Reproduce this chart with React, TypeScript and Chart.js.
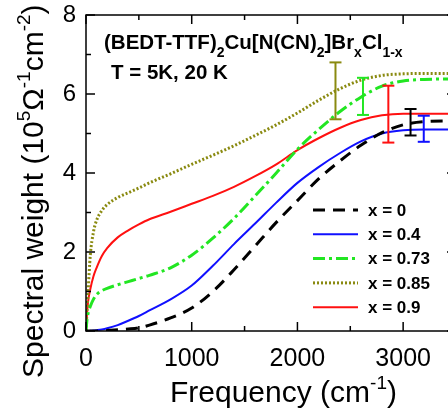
import React, { useEffect, useRef } from 'react';
import { Chart, registerables } from 'chart.js';
Chart.register(...registerables);

const freq = [0, 10, 20, 40, 70, 100, 150, 200, 300, 400, 500, 600, 800, 1000, 1200, 1400, 1600, 1800, 2000, 2200, 2400, 2600, 2800, 3000, 3200, 3500];
const sw_x0 = [0, 0, 0, 0, 0, 0, 0.005, 0.01, 0.03, 0.05, 0.08, 0.15, 0.33, 0.58, 1.0, 1.55, 2.15, 2.75, 3.3, 3.85, 4.3, 4.7, 5.02, 5.22, 5.3, 5.32];
const sw_x04 = [0, 0, 0, 0.005, 0.01, 0.02, 0.04, 0.07, 0.15, 0.26, 0.38, 0.52, 0.8, 1.15, 1.65, 2.2, 2.72, 3.25, 3.75, 4.15, 4.5, 4.8, 5.0, 5.08, 5.1, 5.1];
const sw_x073 = [0, 0.3, 0.45, 0.62, 0.8, 0.92, 1.02, 1.08, 1.17, 1.25, 1.33, 1.41, 1.6, 1.92, 2.35, 2.85, 3.42, 4.0, 4.6, 5.1, 5.55, 5.92, 6.2, 6.33, 6.37, 6.38];
const sw_x085 = [0, 0.55, 1.0, 1.9, 2.5, 2.8, 3.05, 3.2, 3.38, 3.5, 3.62, 3.75, 3.98, 4.22, 4.45, 4.69, 4.95, 5.22, 5.52, 5.84, 6.13, 6.35, 6.47, 6.51, 6.52, 6.52];
const sw_x09 = [0, 0.45, 0.75, 1.05, 1.38, 1.6, 1.9, 2.1, 2.37, 2.55, 2.7, 2.83, 3.02, 3.22, 3.42, 3.65, 3.92, 4.22, 4.58, 4.88, 5.14, 5.34, 5.46, 5.5, 5.5, 5.5];

const seriesLabels = ['x = 0', 'x = 0.4', 'x = 0.73', 'x = 0.85', 'x = 0.9'];
const seriesColors = ['#000000', '#1010ff', '#22e622', '#8a8a10', '#ff1010'];
const seriesWidths = [3, 2, 3, 3, 2];
const seriesDash: number[][] = [[12, 8], [], [12, 4, 3, 4], [2, 2], []];

const errFreq = [2360, 2620, 2860, 3070, 3195];
const errLow = [5.36, 5.47, 4.77, 4.95, 4.79];
const errHigh = [6.8, 6.41, 6.21, 5.62, 5.45];
const errColors = ['#8a8a10', '#22e622', '#ff1010', '#000000', '#1010ff'];

const xTicks = [0, 1000, 2000, 3000];
const yTicks = [0, 2, 4, 6, 8];
const X_MAX = 3500;
const Y_MAX = 8;

const FONT = '"Liberation Sans", Arial, sans-serif';

type Seg = { t: string; size: number; dy: number };

function drawRich(ctx: CanvasRenderingContext2D, segs: Seg[], x: number, y: number, bold: boolean) {
  let cx = x;
  for (const s of segs) {
    ctx.font = `${bold ? 'bold ' : ''}${s.size}px ${FONT}`;
    ctx.fillText(s.t, cx, y + s.dy);
    cx += ctx.measureText(s.t).width;
  }
}

const decoPlugin = {
  id: 'deco',
  afterDatasetsDraw(chart: any) {
    const ctx: CanvasRenderingContext2D = chart.ctx;
    const { left, right, top, bottom } = chart.chartArea;
    const xs = chart.scales.x;
    const ys = chart.scales.y;
    ctx.save();
    const line = (x1: number, y1: number, x2: number, y2: number) => {
      ctx.beginPath();
      ctx.moveTo(x1, y1);
      ctx.lineTo(x2, y2);
      ctx.stroke();
    };

    // error bars
    ctx.lineWidth = 2;
    ctx.setLineDash([]);
    for (let i = 0; i < errFreq.length; i++) {
      const px = xs.getPixelForValue(errFreq[i]);
      const y1 = ys.getPixelForValue(errLow[i]);
      const y2 = ys.getPixelForValue(errHigh[i]);
      ctx.strokeStyle = errColors[i];
      line(px, y1, px, y2);
      line(px - 6, y1, px + 6, y1);
      line(px - 6, y2, px + 6, y2);
    }

    // frame
    ctx.strokeStyle = '#000';
    ctx.lineWidth = 1.5;
    ctx.strokeRect(left, top, right - left, bottom - top);
    // inward ticks
    for (let v = 0; v <= X_MAX; v += 500) {
      const px = xs.getPixelForValue(v);
      const len = v % 1000 === 0 ? 9 : 5;
      line(px, bottom, px, bottom - len);
      line(px, top, px, top + len);
    }
    for (let v = 0; v <= Y_MAX; v += 1) {
      const py = ys.getPixelForValue(v);
      const len = v % 2 === 0 ? 9 : 5;
      line(left, py, left + len, py);
      line(right, py, right - len, py);
    }

    // legend
    ctx.fillStyle = '#000';
    ctx.textBaseline = 'middle';
    ctx.textAlign = 'left';
    for (let i = 0; i < seriesLabels.length; i++) {
      const ly = 210 + i * 24.3;
      ctx.strokeStyle = seriesColors[i];
      ctx.lineWidth = seriesWidths[i];
      ctx.setLineDash(seriesDash[i]);
      line(313, ly, 358, ly);
      ctx.setLineDash([]);
      ctx.font = `bold 17px ${FONT}`;
      ctx.fillText(seriesLabels[i], 368, ly + 1);
    }

    // annotation
    ctx.textBaseline = 'alphabetic';
    drawRich(ctx, [
      { t: '(BEDT-TTF)', size: 20.5, dy: 0 },
      { t: '2', size: 14, dy: 8 },
      { t: 'Cu[N(CN)', size: 20.5, dy: 0 },
      { t: '2', size: 14, dy: 8 },
      { t: ']Br', size: 20.5, dy: 0 },
      { t: 'x', size: 14, dy: 8 },
      { t: 'Cl', size: 20.5, dy: 0 },
      { t: '1-x', size: 14, dy: 8 },
    ], 104, 48.5, true);
    drawRich(ctx, [{ t: 'T = 5K, 20 K', size: 20.5, dy: 0 }], 111, 79, true);

    // x title
    drawRich(ctx, [
      { t: 'Frequency (cm', size: 30, dy: 0 },
      { t: '-1', size: 19, dy: -13 },
      { t: ')', size: 30, dy: 0 },
    ], 170, 401.5, false);

    // y title
    ctx.translate(43, 378);
    ctx.rotate(-Math.PI / 2);
    drawRich(ctx, [
      { t: 'Spectral weight (10', size: 30, dy: 0 },
      { t: '5', size: 19, dy: -13 },
      { t: 'Ω', size: 30, dy: 0 },
      { t: '-1', size: 19, dy: -13 },
      { t: 'cm', size: 30, dy: 0 },
      { t: '-2', size: 19, dy: -13 },
      { t: ')', size: 30, dy: 0 },
    ], 0, 0, false);
    ctx.restore();
  },
};

export default function App() {
  const ref = useRef<HTMLCanvasElement>(null);
  useEffect(() => {
    if (!ref.current) return;
    const series = [sw_x0, sw_x04, sw_x073, sw_x085, sw_x09];
    const chart = new Chart(ref.current, {
      type: 'line',
      data: {
        datasets: series.map((s, i) => ({
          label: seriesLabels[i],
          data: freq.map((f, j) => ({ x: f, y: s[j] })),
          borderColor: seriesColors[i],
          borderWidth: seriesWidths[i],
          borderDash: seriesDash[i],
          pointRadius: 0,
          fill: false,
          cubicInterpolationMode: 'monotone' as const,
        })),
      },
      options: {
        animation: false,
        responsive: false,
        devicePixelRatio: 1,
        layout: { autoPadding: false, padding: { left: 0, right: 8, top: 15, bottom: 0 } },
        plugins: { legend: { display: false }, tooltip: { enabled: false } },
        scales: {
          x: {
            type: 'linear',
            min: 0,
            max: X_MAX,
            grid: { display: false, drawTicks: false },
            border: { display: false },
            ticks: {
              color: '#000', font: { family: FONT, size: 25, lineHeight: 0.4 }, padding: 23, maxRotation: 0, autoSkip: false,
              callback: (v: any) => String(v),
            },
            afterBuildTicks: (s: any) => { s.ticks = xTicks.map((v) => ({ value: v })); },
            afterFit: (s: any) => { s.height = 78; s.paddingRight = 0; },
          },
          y: {
            type: 'linear',
            min: 0,
            max: Y_MAX,
            grid: { display: false, drawTicks: false },
            border: { display: false },
            ticks: {
              color: '#000', font: { family: FONT, size: 24, lineHeight: 0.2 }, padding: 10,
              callback: (v: any) => String(v),
            },
            afterBuildTicks: (s: any) => { s.ticks = yTicks.map((v) => ({ value: v })); },
            afterFit: (s: any) => { s.width = 86; s.paddingTop = 0; s.paddingBottom = 0; },
          },
        },
      },
      plugins: [decoPlugin],
    });
    return () => chart.destroy();
  }, []);
  return (
    <div style={{ position: 'absolute', left: 0, top: 0, width: 448, height: 409, overflow: 'hidden', background: '#fff' }}>
      <canvas ref={ref} width={464} height={409} style={{ display: 'block', width: 464, height: 409 }} />
    </div>
  );
}
